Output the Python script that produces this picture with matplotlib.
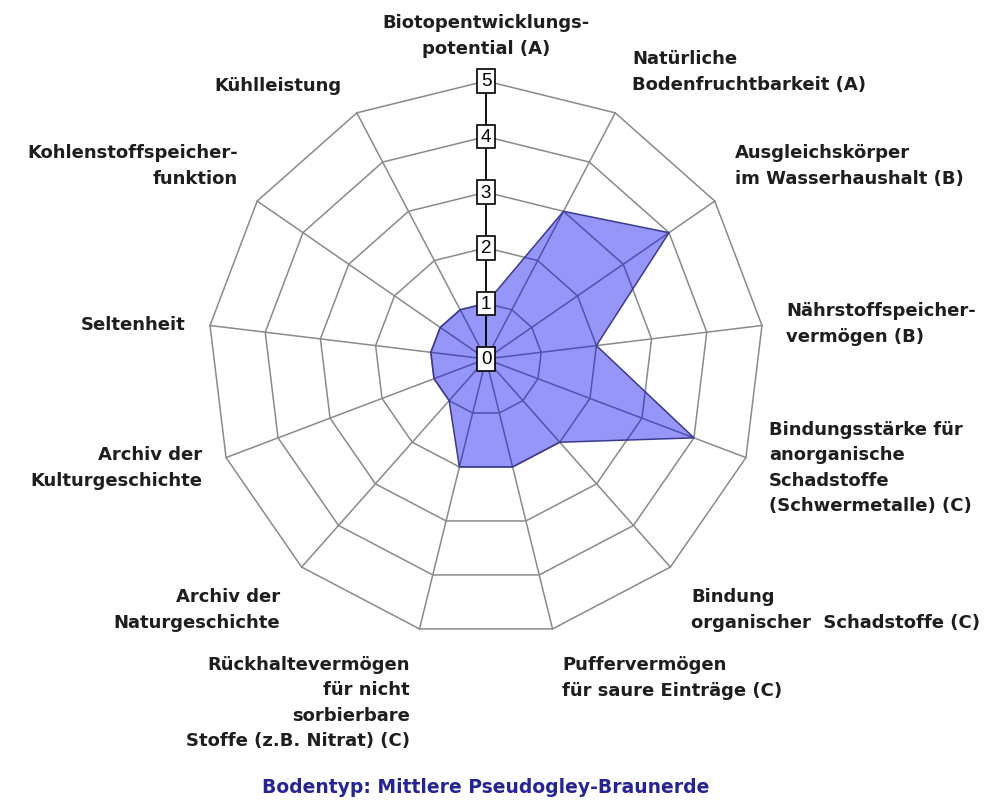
"""Radar chart of soil functions (Bodenfunktionen) for one soil type."""

import matplotlib.pyplot as plt
import numpy as np

plt.rcParams['font.family'] = ['DejaVu Sans']

# --- data -------------------------------------------------------------------
labels = [
    'Biotopentwicklungs-\npotential (A)',
    'Natürliche\nBodenfruchtbarkeit (A)',
    'Ausgleichskörper\nim Wasserhaushalt (B)',
    'Nährstoffspeicher-\nvermögen (B)',
    'Bindungsstärke für\nanorganische\nSchadstoffe\n(Schwermetalle) (C)',
    'Bindung\norganischer  Schadstoffe (C)',
    'Puffervermögen\nfür saure Einträge (C)',
    'Rückhaltevermögen\nfür nicht\nsorbierbare\nStoffe (z.B. Nitrat) (C)',
    'Archiv der\nNaturgeschichte',
    'Archiv der\nKulturgeschichte',
    'Seltenheit',
    'Kohlenstoffspeicher-\nfunktion',
    'Kühlleistung',
]
values = [1, 3, 4, 2, 4, 2, 2, 2, 1, 1, 1, 1, 1]
ticks = [0, 1, 2, 3, 4, 5]
title = 'Bodentyp: Mittlere Pseudogley-Braunerde'

# --- layout (pixels of the 998x803 canvas) ----------------------------------
W, H = 998, 803
CX, CY = 486, 360          # centre of the web
UNIT = 55.6                # pixels per score step

# anchor (x, vertical centre of text block) and horizontal alignment per label
label_pos = [
    (486, 36, 'center'),
    (632, 72, 'left'),
    (735, 166, 'left'),
    (786, 324, 'left'),
    (769, 468, 'left'),
    (691, 610, 'left'),
    (562, 678, 'left'),
    (410, 703, 'right'),
    (280, 610, 'right'),
    (202, 468, 'right'),
    (186, 325, 'right'),
    (238, 166, 'right'),
    (341, 86, 'right'),
]


def px(x, y):
    """Canvas pixel -> data units (centre at 0, y up)."""
    return (x - CX) / UNIT, (CY - y) / UNIT


fig = plt.figure(figsize=(W / 100, H / 100), dpi=100)
ax = fig.add_axes([0, 0, 1, 1])
ax.set_xlim(-CX / UNIT, (W - CX) / UNIT)
ax.set_ylim(-(H - CY) / UNIT, CY / UNIT)
ax.axis('off')

n = len(labels)
ang = np.pi / 2 - 2 * np.pi * np.arange(n) / n
ux, uy = np.cos(ang), np.sin(ang)
rmax = max(ticks)

grid_color = '#8a8a8a'
# rings
for t in ticks[1:]:
    ax.plot(np.append(ux, ux[0]) * t, np.append(uy, uy[0]) * t,
            color=grid_color, lw=1.1, zorder=1)
# spokes
for i in range(1, n):
    ax.plot([0, ux[i] * rmax], [0, uy[i] * rmax], color=grid_color, lw=1.1, zorder=1)

# data polygon (translucent so the web shows through)
v = np.array(values, dtype=float)
ax.fill(ux * v, uy * v, facecolor='#0000f0', alpha=0.41, edgecolor='none', zorder=2)
ax.plot(np.append(ux * v, ux[0] * v[0]), np.append(uy * v, uy[0] * v[0]),
        color='#3a3a90', lw=1.1, zorder=3)

# scale axis with boxed tick numbers
ax.plot([0, 0], [0, rmax], color='black', lw=1.3, zorder=4)
for t in ticks:
    ax.text(0, t, str(t), ha='center', va='center', fontsize=13.5,
            family='Liberation Sans', zorder=5,
            bbox=dict(boxstyle='square,pad=0.18', facecolor='white',
                      edgecolor='black', lw=1.2))

# axis labels
for lab, (x, y, ha) in zip(labels, label_pos):
    tx, ty = px(x, y)
    ax.text(tx, ty, lab, ha=ha, va='center', multialignment=ha,
            fontsize=13, fontweight='bold', color='#1e1e1e', linespacing=1.53)

tx, ty = px(486, 788)
ax.text(tx, ty, title, ha='center', va='center', fontsize=13.5,
        fontweight='bold', color='#23239a')

fig.savefig('out.png', dpi=100)
